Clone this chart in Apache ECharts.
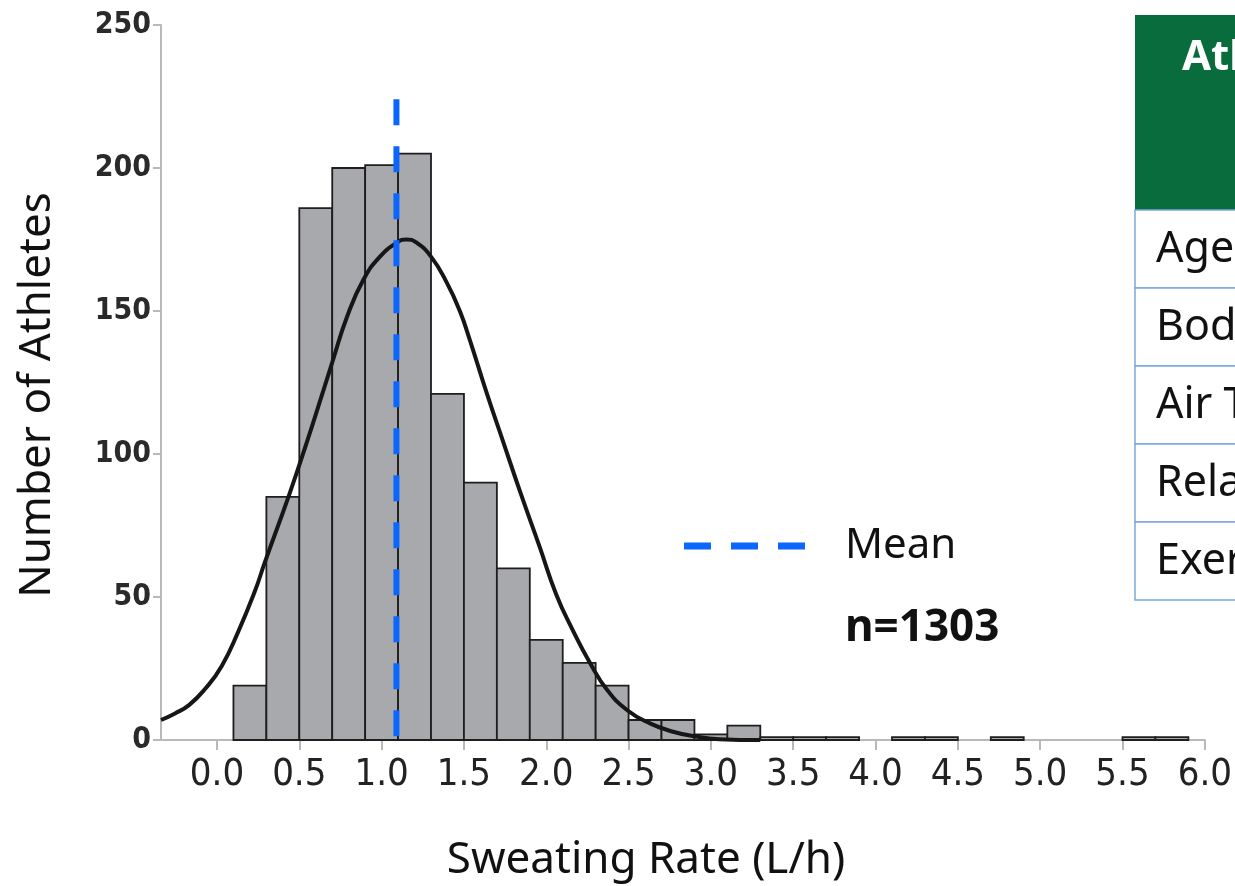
<!DOCTYPE html>
<html>
<head>
<meta charset="utf-8">
<title>Sweating Rate</title>
<script src="https://cdn.jsdelivr.net/npm/echarts@6.0.0/dist/echarts.min.js"></script>
<style>
  html, body { margin: 0; padding: 0; background: #fff; }
  #chart { width: 1235px; height: 886px; }
</style>
</head>
<body>
<div id="chart"></div>
<script>
// histogram: left edge of each 0.2 L/h bin and number of athletes in it
const binWidth = 0.2
const binStart = [0.1, 0.3, 0.5, 0.7, 0.9, 1.1, 1.3, 1.5, 1.7, 1.9, 2.1, 2.3, 2.5, 2.7, 2.9,
  3.1, 3.3, 3.5, 3.7, 3.9, 4.1, 4.3, 4.5, 4.7, 4.9, 5.1, 5.3, 5.5, 5.7]
const counts = [19, 85, 186, 200, 201, 205, 121, 90, 60, 35, 27, 19, 7, 7, 2,
  5, 1, 1, 1, 0, 1, 1, 0, 1, 0, 0, 0, 1, 1]

// fitted curve
const curveX = [-0.34, -0.255, -0.17, -0.07, 0.03, 0.13, 0.23, 0.29, 0.44, 0.545, 0.645, 0.7, 0.79,
  0.89, 0.99, 1.095, 1.15, 1.21, 1.3, 1.395, 1.475, 1.535, 1.64, 1.74, 1.84, 1.96, 2.06, 2.16,
  2.265, 2.37, 2.49, 2.63, 2.77, 2.91, 3.05, 3.3]
const curveY = [7, 9.3, 12.2, 18, 26, 38, 52, 62, 86, 104, 122, 132, 148,
  161, 169, 174, 175, 174, 169, 160, 150, 140, 121, 104, 87, 67.5, 51, 38.5,
  27, 17.5, 10.5, 5.8, 2.9, 1.2, 0.3, 0]

const meanRate = 1.09
const meanTop = 224
const sampleSize = 'n=1303'

const xTicks = [0, 0.5, 1, 1.5, 2, 2.5, 3, 3.5, 4, 4.5, 5, 5.5, 6]

const tableTitle = 'Athlete Characteristics'
const tableRows = ['Age', 'Body Mass', 'Air Temperature', 'Relative Humidity', 'Exercise Duration']

const chart = echarts.init(document.getElementById('chart'))

const axisGrey = '#b9b9b9'
const textFont = '"Noto Sans", "Open Sans", sans-serif'

// table at the right edge (cut off by the page like the original)
const tableGraphics = []
tableGraphics.push({
  type: 'rect', shape: { x: 1135, y: 15, width: 400, height: 195 },
  style: { fill: '#086c3c' }, z: 10
})
tableGraphics.push({
  type: 'text', x: 1182, y: 58,
  style: { text: tableTitle, fill: '#fff', font: 'bold 42px ' + textFont, textVerticalAlign: 'middle' },
  z: 11
})
tableRows.forEach((row, i) => {
  const top = 210 + i * 78
  tableGraphics.push({
    type: 'rect', shape: { x: 1135, y: top, width: 400, height: 78 },
    style: { fill: '#fff', stroke: '#79a9dc', lineWidth: 1.5 }, z: 10
  })
  tableGraphics.push({
    type: 'text', x: 1156, y: top + 40,
    style: { text: row, fill: '#111', font: '43px ' + textFont, textVerticalAlign: 'middle' },
    z: 11
  })
})

chart.setOption({
  animation: false,
  backgroundColor: '#fff',
  grid: { left: 161, right: 28, top: 25, bottom: 146 },
  xAxis: {
    type: 'value',
    min: -0.34,
    max: 6,
    splitLine: { show: false },
    axisLine: { show: true, onZero: false, lineStyle: { color: axisGrey, width: 2 } },
    axisTick: { show: true, customValues: xTicks, length: 10, lineStyle: { color: axisGrey, width: 2 } },
    axisLabel: {
      customValues: xTicks,
      formatter: v => v.toFixed(1),
      margin: 16,
      fontFamily: '"Liberation Sans Narrow", "DejaVu Sans Condensed", sans-serif',
      fontSize: 38,
      color: '#222'
    }
  },
  yAxis: {
    type: 'value',
    min: 0,
    max: 250,
    interval: 50,
    splitLine: { show: false },
    axisLine: { show: true, onZero: false, lineStyle: { color: axisGrey, width: 2 } },
    axisTick: { show: true, length: 8, lineStyle: { color: axisGrey, width: 2 } },
    axisLabel: {
      margin: 10,
      fontFamily: '"DejaVu Sans Condensed", sans-serif',
      fontWeight: 'bold',
      fontSize: 30,
      color: '#2a2a2a'
    }
  },
  series: [
    {
      type: 'custom',
      data: binStart.map((x, i) => [x, counts[i]]),
      encode: { x: 0, y: 1 },
      renderItem(params, api) {
        const x0 = api.value(0)
        const v = api.value(1)
        if (!v) return { type: 'group', children: [] }
        const p0 = api.coord([x0, v])
        const p1 = api.coord([x0 + binWidth, 0])
        return {
          type: 'rect',
          shape: { x: p0[0], y: p0[1], width: p1[0] - p0[0], height: p1[1] - p0[1] },
          style: { fill: '#a7a9ac', stroke: '#1e1e1e', lineWidth: 1.8 }
        }
      },
      z: 2
    },
    {
      type: 'line',
      data: curveX.map((x, i) => [x, curveY[i]]),
      smooth: 0.5,
      showSymbol: false,
      lineStyle: { color: '#161616', width: 4 },
      z: 3
    },
    {
      type: 'line',
      data: [[meanRate, meanTop], [meanRate, 0]],
      showSymbol: false,
      lineStyle: { color: '#0a66ff', width: 6, type: [26, 21] },
      z: 4
    }
  ],
  graphic: [
    {
      type: 'text', x: 37, y: 395, rotation: Math.PI / 2,
      style: { text: 'Number of Athletes', fill: '#111', font: '44px ' + textFont, align: 'center', verticalAlign: 'middle' }
    },
    {
      type: 'text', x: 646, y: 860,
      style: { text: 'Sweating Rate (L/h)', fill: '#111', font: '44px ' + textFont, align: 'center', verticalAlign: 'middle' }
    },
    {
      type: 'line', shape: { x1: 684, y1: 546, x2: 805, y2: 546 },
      style: { stroke: '#0a66ff', lineWidth: 7, lineDash: [27, 20] }
    },
    {
      type: 'text', x: 845, y: 546,
      style: { text: 'Mean', fill: '#111', font: '42px ' + textFont, verticalAlign: 'middle' }
    },
    {
      type: 'text', x: 845, y: 628,
      style: { text: sampleSize, fill: '#111', font: 'bold 44px ' + textFont, verticalAlign: 'middle' }
    }
  ].concat(tableGraphics)
})
</script>
</body>
</html>
